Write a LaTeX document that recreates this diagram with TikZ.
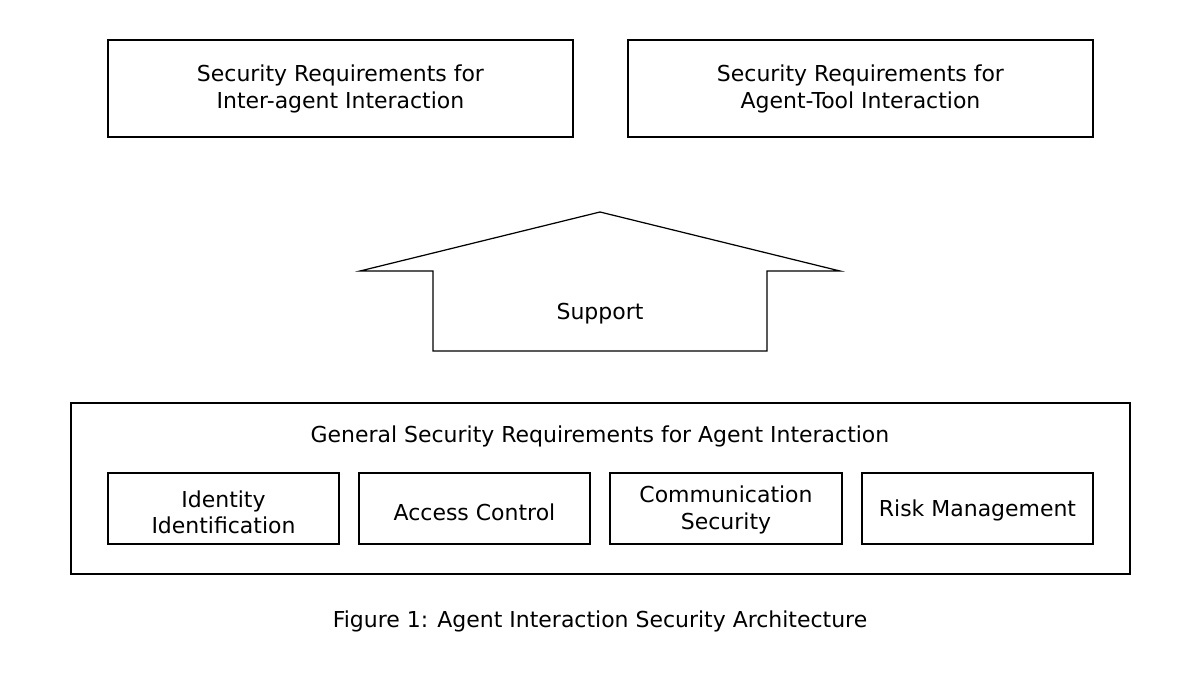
\documentclass[tikz,border=0pt]{standalone}
\usepackage{fontspec}
\setmainfont{DejaVu Sans}
\begin{document}
\begin{tikzpicture}[x=0.02cm,y=-0.02cm,
  box/.style={draw,line width=0.9pt},
  lbl/.style={font=\fontsize{12.5}{15}\selectfont,align=center}]
\useasboundingbox (0,0) rectangle (1200,675);
\draw[box] (108,40) rectangle (573,137);
\node[lbl] (t1) at (340.5,89) {Security Requirements for\\Inter-agent Interaction};
\draw[box] (628,40) rectangle (1093,137);
\node[lbl] (t2) at (860.5,89) {Security Requirements for\\Agent-Tool Interaction};
\draw[line width=0.7pt] (360,271) -- (600,212) -- (840,271) -- (767,271) -- (767,351) -- (433,351) -- (433,271) -- cycle;
\node[lbl] (sup) at (600,314) {Support};
\draw[box] (71,403) rectangle (1130,574);
\node[lbl] (gen) at (600,436) {General Security Requirements for Agent Interaction};
\draw[box] (108,473) rectangle (339,544);
\node[lbl] (b1) at (223.5,512) {Identity\\Identification};
\draw[box] (359,473) rectangle (590,544);
\node[lbl] (b2) at (474.5,512) {Access Control};
\draw[box] (610,473) rectangle (842,544);
\node[lbl] (b3) at (726,510) {Communication\\Security};
\draw[box] (862,473) rectangle (1093,544);
\node[lbl] (b4) at (977.5,510) {Risk Management};
\node[lbl] (cap) at (600,621) {Figure 1: Agent Interaction Security Architecture};
\end{tikzpicture}
\end{document}
